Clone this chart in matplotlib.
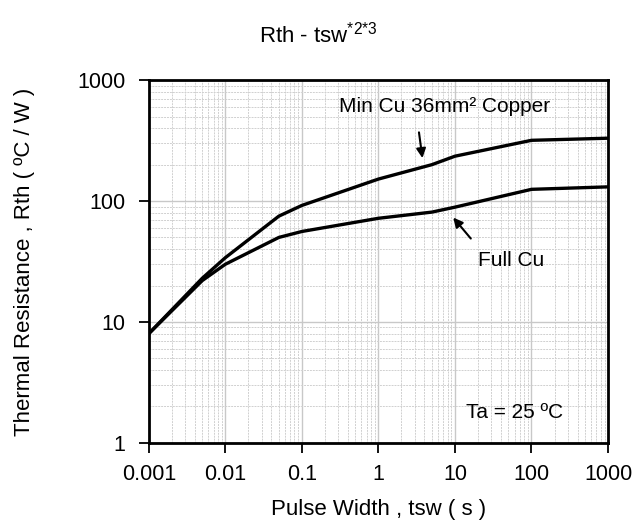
import numpy as np              # Thu vien toan hoc
import matplotlib
matplotlib.use('Agg')
import matplotlib.pyplot as plt # Thu vien ve bieu do
from matplotlib.ticker import LogLocator, FixedLocator, NullFormatter

#--------------------------------------------------------------------------------
# Du lieu doc tu hinh
#--------------------------------------------------------------------------------
tsw = [0.001, 0.005, 0.01, 0.05, 0.1, 1, 5, 10, 100, 1000]
rth_min_cu = [8, 23, 34, 75, 92, 152, 200, 235, 318, 331]
rth_full_cu = [8, 22, 30, 50, 56, 72, 81, 89, 125, 131]

x_ticks = [0.001, 0.01, 0.1, 1, 10, 100, 1000]
x_tick_labels = ['0.001', '0.01', '0.1', '1', '10', '100', '1000']
y_ticks = [1, 10, 100, 1000]
y_tick_labels = ['1', '10', '100', '1000']

#--------------------------------------------------------------------------------
# Font
#--------------------------------------------------------------------------------
plt.rcParams['font.family'] = ['Liberation Sans', 'DejaVu Sans']
plt.rcParams['mathtext.fontset'] = 'custom'
plt.rcParams['mathtext.rm'] = 'Liberation Sans'
plt.rcParams['mathtext.it'] = 'Liberation Sans'

fig = plt.figure(figsize=(6.36, 5.24), dpi=100)
ax = fig.add_axes([0.234, 0.155, 0.722, 0.692])

# Ve 2 duong cong
ax.plot(tsw, rth_min_cu, color='black', lw=2.4, solid_joinstyle='round')
ax.plot(tsw, rth_full_cu, color='black', lw=2.4, solid_joinstyle='round')

ax.set_xscale('log')
ax.set_yscale('log')
ax.set_xlim(0.001, 1000)
ax.set_ylim(1, 1000)

# Truc va nhan truc
ax.xaxis.set_major_locator(FixedLocator(x_ticks))
ax.set_xticklabels(x_tick_labels)
ax.yaxis.set_major_locator(FixedLocator(y_ticks))
ax.set_yticklabels(y_tick_labels)
ax.xaxis.set_minor_locator(LogLocator(base=10, subs=np.arange(2, 10)))
ax.yaxis.set_minor_locator(LogLocator(base=10, subs=np.arange(2, 10)))
ax.xaxis.set_minor_formatter(NullFormatter())
ax.yaxis.set_minor_formatter(NullFormatter())
ax.tick_params(which='major', direction='out', length=7, width=1.3, labelsize=15.5)
ax.tick_params(axis='x', pad=8)
ax.tick_params(axis='y', pad=10)
ax.tick_params(which='minor', length=0)

# Luoi
ax.grid(True, which='major', color='#c8c8c8', lw=1.0, ls='-')
ax.grid(True, which='minor', color='#d0d0d0', lw=0.7, ls=(0, (2, 1)))
ax.set_axisbelow(True)

for s in ax.spines.values():
    s.set_linewidth(2)

ax.set_xlabel('Pulse Width , tsw ( s )', fontsize=16, labelpad=10)
ax.set_ylabel('Thermal Resistance , Rth ( ºC / W )', fontsize=16, labelpad=30)
fig.text(0.5, 0.935, r'Rth - tsw$^{{*}2{*}3}$', fontsize=16, ha='center', va='center')

# Chu thich
ax.annotate('', xy=(3.8, 215), xytext=(3.35, 390),
            arrowprops=dict(arrowstyle='-|>', color='black', lw=1.5, mutation_scale=14))
ax.text(0.31, 600, 'Min Cu 36mm² Copper', fontsize=15, ha='left', va='center')
ax.annotate('', xy=(9.0, 76), xytext=(17, 47),
            arrowprops=dict(arrowstyle='-|>', color='black', lw=1.5, mutation_scale=14))
ax.text(20, 32.5, 'Full Cu', fontsize=15, ha='left', va='center')
ax.text(14, 1.77, 'Ta = 25 ºC', fontsize=15, ha='left', va='center')

fig.savefig('out.png', dpi=100)
